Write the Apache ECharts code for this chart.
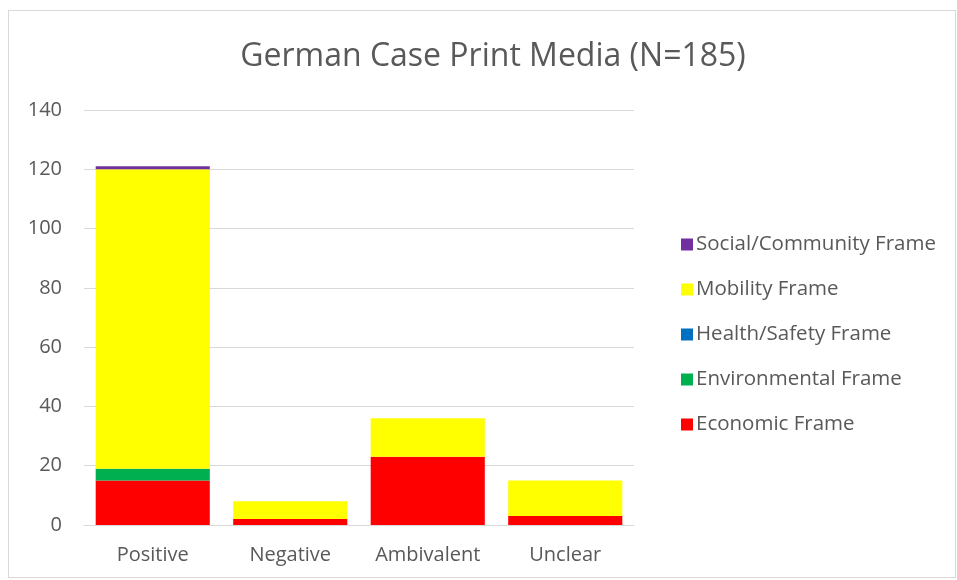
<!DOCTYPE html>
<html>
<head>
<meta charset="utf-8">
<script src="https://cdn.jsdelivr.net/npm/echarts@6/dist/echarts.min.js"></script>
<style>
  html, body { margin: 0; padding: 0; background: #fff; }
  #frame {
    position: absolute; left: 8px; top: 10px; width: 948px; height: 568px;
    border: 1px solid #d9d9d9; box-sizing: border-box;
  }
  #chart { position: absolute; left: 0; top: 0; width: 957px; height: 580px; }
</style>
</head>
<body>
<div id="frame"></div>
<div id="chart"></div>
<script>
  const categories = ['Positive', 'Negative', 'Ambivalent', 'Unclear']
  const economic = [15, 2, 23, 3]
  const environmental = [4, 0, 0, 0]
  const healthSafety = [0, 0, 0, 0]
  const mobility = [101, 6, 13, 12]
  const social = [1, 0, 0, 0]
  const yTicks = [0, 20, 40, 60, 80, 100, 120, 140]

  const seriesDefs = [
    { name: 'Economic Frame', data: economic, color: '#ff0000' },
    { name: 'Environmental Frame', data: environmental, color: '#00b050' },
    { name: 'Health/Safety Frame', data: healthSafety, color: '#0070c0' },
    { name: 'Mobility Frame', data: mobility, color: '#ffff00' },
    { name: 'Social/Community Frame', data: social, color: '#7030a0' },
  ]

  const font = '"Open Sans", Lato, sans-serif'
  const textColor = '#595959'

  const chart = echarts.init(document.getElementById('chart'))
  chart.setOption({
    animation: false,
    textStyle: { fontFamily: font },
    title: {
      text: 'German Case Print Media (N=185)',
      left: 488,
      textAlign: 'center',
      top: 36,
      textStyle: { fontSize: 32, fontWeight: 'normal', color: textColor, fontFamily: font },
    },
    legend: {
      orient: 'vertical',
      left: 676,
      top: 229,
      itemWidth: 12,
      itemHeight: 12,
      itemGap: 24,
      icon: 'rect',
      data: seriesDefs.map(s => s.name).reverse(),
      textStyle: { fontSize: 20.5, color: textColor, fontFamily: font, padding: [0, 0, 0, -2] },
    },
    grid: { left: 84, right: 323, top: 110, bottom: 55 },
    xAxis: {
      type: 'category',
      data: categories,
      axisLine: { lineStyle: { color: '#d9d9d9' } },
      axisTick: { show: false },
      axisLabel: { color: textColor, fontSize: 20, margin: 20 },
    },
    yAxis: {
      type: 'value',
      min: yTicks[0],
      max: yTicks[yTicks.length - 1],
      interval: 20,
      axisLine: { show: false },
      axisTick: { show: false },
      splitLine: { lineStyle: { color: '#d9d9d9' } },
      axisLabel: { color: textColor, fontSize: 20, margin: 22 },
    },
    series: seriesDefs.map(s => ({
      name: s.name,
      type: 'bar',
      stack: 'total',
      data: s.data,
      barCategoryGap: '17%',
      itemStyle: { color: s.color },
    })),
  })
</script>
</body>
</html>
